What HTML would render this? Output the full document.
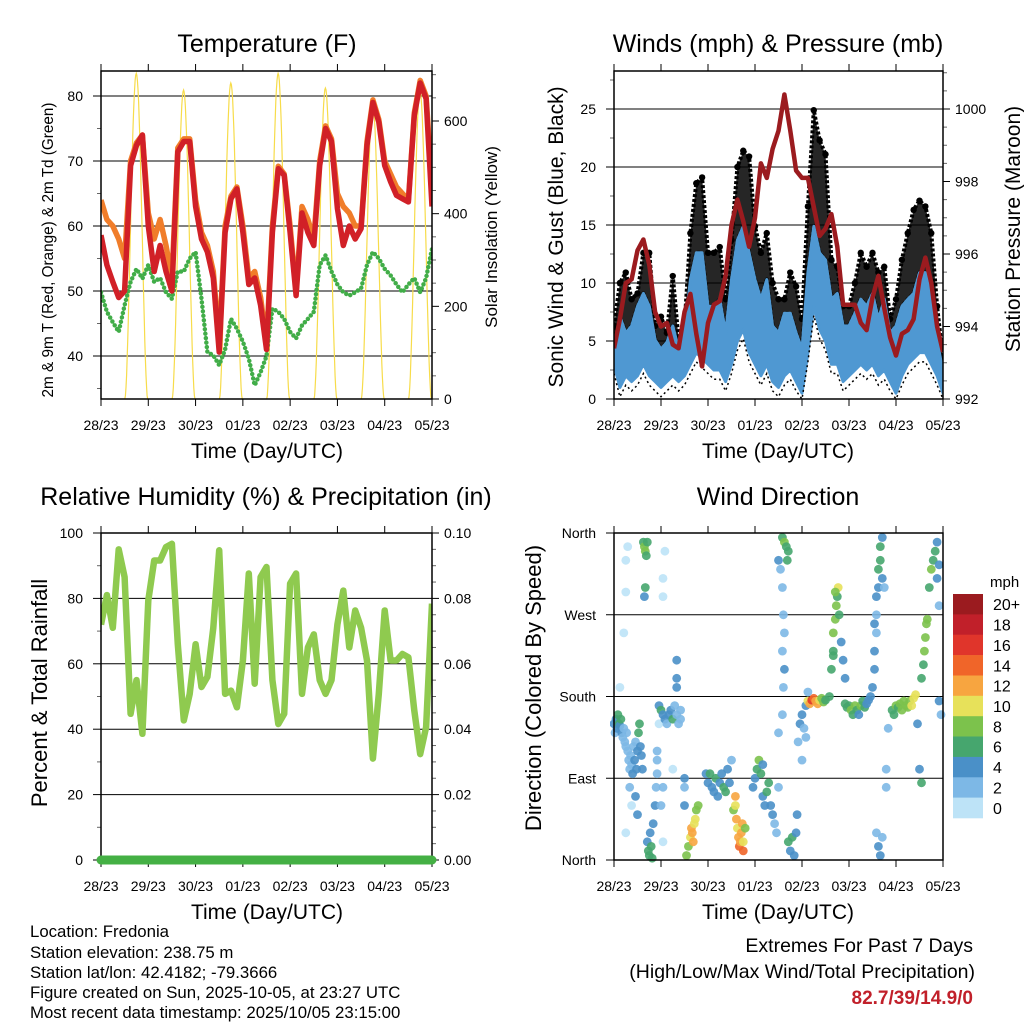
<!DOCTYPE html>
<html><head><meta charset="utf-8"><style>
html,body{margin:0;padding:0;background:#fff;}
svg{display:block;font-family:"Liberation Sans",sans-serif;}
</style></head><body>
<svg id="root" xmlns="http://www.w3.org/2000/svg" width="1024" height="1024" viewBox="0 0 1024 1024">
<rect width="1024" height="1024" fill="#fff"/>
<g id="g1"></g>
<g id="g2"></g>
<g id="g3"></g>
<g id="g4"></g>
<text x="267" y="52" font-size="25" text-anchor="middle">Temperature (F)</text>
<text x="778" y="52" font-size="25" text-anchor="middle">Winds (mph) &amp; Pressure (mb)</text>
<text x="266" y="505" font-size="25" text-anchor="middle">Relative Humidity (%) &amp; Precipitation (in)</text>
<text x="778" y="505" font-size="25" text-anchor="middle">Wind Direction</text>
<text x="267" y="458" font-size="21" text-anchor="middle">Time (Day/UTC)</text>
<text x="778" y="458" font-size="21" text-anchor="middle">Time (Day/UTC)</text>
<text x="267" y="919" font-size="21" text-anchor="middle">Time (Day/UTC)</text>
<text x="778" y="919" font-size="21" text-anchor="middle">Time (Day/UTC)</text>
<text transform="translate(53,250) rotate(-90)" font-size="15.3" text-anchor="middle">2m &amp; 9m T (Red, Orange) &amp; 2m Td (Green)</text>
<text transform="translate(497,237) rotate(-90)" font-size="17" text-anchor="middle">Solar Insolation (Yellow)</text>
<text transform="translate(563,237) rotate(-90)" font-size="21" text-anchor="middle">Sonic Wind &amp; Gust (Blue, Black)</text>
<text transform="translate(1020,229) rotate(-90)" font-size="21" text-anchor="middle">Station Pressure (Maroon)</text>
<text transform="translate(47,693) rotate(-90)" font-size="22" text-anchor="middle">Percent &amp; Total Rainfall</text>
<text transform="translate(541,688) rotate(-90)" font-size="22" text-anchor="middle">Direction (Colored By Speed)</text>
<g font-size="16.8">
<text x="30" y="937">Location: Fredonia</text>
<text x="30" y="958">Station elevation: 238.75 m</text>
<text x="30" y="978">Station lat/lon: 42.4182; -79.3666</text>
<text x="30" y="998">Figure created on Sun, 2025-10-05, at 23:27 UTC</text>
<text x="30" y="1018">Most recent data timestamp: 2025/10/05 23:15:00</text>
</g>
<text x="973" y="952" font-size="19.5" text-anchor="end">Extremes For Past 7 Days</text>
<text x="975" y="978" font-size="19.5" text-anchor="end">(High/Low/Max Wind/Total Precipitation)</text>
<text x="973" y="1004" font-size="19" font-weight="bold" fill="#c1202a" text-anchor="end">82.7/39/14.9/0</text>
</svg>
<script>
// ---- data (3-hourly samples, 57 per series) ----
const dayLabels=["28/23","29/23","30/23","01/23","02/23","03/23","04/23","05/23"];
const tempRed=[58.6,54,51.4,49,50,69.3,72.4,74,60,53,57,53,50,71.4,73,73,63,58,56,52,40.6,59,64.2,65.7,59,51,52,47.8,41,59,68.8,67.8,59,49.3,62,59,57,69.3,75,73,62.7,57,60,58,59.6,72.4,79,76,69.3,66.8,64.7,64.2,63.7,77,82,79.6,63];
const tempOrange=[64,61,60,58,55,70,72.8,74,62,58,61,57,52,72,73.4,73.4,64,59,57,53,42,60,64.6,66,60,52,53,49,42,60,69.2,68,60,50,63,61,58,70,75.4,73.4,65,63,62,60,60,73,79.4,76.4,70,68,66,65,64,77.4,82.4,80,66];
const dewpoint=[49.8,46.8,45.2,43.7,47.8,51.4,53.4,51.9,54,51.4,52,49.8,48.8,53,53,55,56,48.8,40.6,40.1,38.6,41,45.7,44.2,42.2,39.6,35.5,37.5,40,47.3,46.8,45.7,43.7,42.7,44.7,45.7,46.8,54,55.5,53,51,49.8,49.3,49.8,50.4,54,56,55,53.4,52.4,51,49.8,51,52,49.8,52,56.5];
const solarPeak=[703,667,682,703,671,639,665];
const solarNoonHour=[17.9,41.9,65.9,89.9,113.9,137.9,161.9];
const pressure=[993.4,994.2,995.2,995.3,996.1,996.4,995.7,994.4,994.0,994.1,993.5,993.4,994.4,994.9,993.8,992.9,994.1,994.6,994.7,995.4,996.8,997.5,996.9,996.2,997.0,998.5,998.1,998.9,999.4,1000.4,999.4,998.3,998.1,998.1,997.3,996.5,996.7,997.1,996.2,994.6,994.6,994.6,994.1,993.9,994.8,995.4,994.5,993.7,993.2,993.8,993.9,994.2,995.3,995.9,995.2,994.0,993.3];
const gustHi=[6.3,10,10.9,8.6,9.1,12.6,12.6,6.3,7.1,5.7,10.6,5.1,6.3,14.3,18.6,19.1,12.6,12.6,13.1,8.6,13.7,20,21.4,20.9,14.9,12.6,14.3,10,8.6,8.6,10.9,9.7,6.9,16.6,24.9,22.3,21.1,12,11.4,8,8,10,12.6,11.4,12.6,10.9,11.4,6.9,8.6,12,14.3,16.3,17.1,16.6,14.3,8,3.4];
const windHi=[4.3,7.1,5.7,6.3,8,9.1,8,5.1,4.3,4.9,6.3,4.3,5.7,10.3,12.6,12.6,8,8,8.6,5.7,10.3,13.7,14.9,12.6,10.3,8.6,10.3,6.3,5.7,7.4,7.4,5.7,4.3,10.9,14.9,12.6,12,8.6,9.1,6.3,6.3,7.4,8.6,8,9.1,6.9,8.6,5.7,6.3,8,8.6,9.1,10.9,10.9,8.6,5.1,2.3];
const windLo=[3,1,2,1.5,2,3,2,1.5,1,1.5,2,1.5,2,3,4,3.5,3,2.5,2.5,1.5,3,5,6,4,3,2,3,1.5,1,2,2.5,1.5,0.5,4,8,6,5,3,3,1.5,2,2.5,3,2.5,3,2,2.5,1.5,0.5,2,3,3.5,4,4,3,2,0.5];
const humidity=[72,81,71,95,86.5,44.7,55,38.6,79.4,91.6,91.6,95.7,96.7,66,42.7,50.8,66,52.9,56,71,94.7,50.8,51.8,46.7,61,87.6,53.9,86.5,89.6,55,41.6,44.7,84.5,87.6,50.8,65,69,55,50.8,55,72,82.4,65,76.3,71,61,31,50.8,76.3,61,61,63,62,45.7,32.4,40.6,78.4];
const precipTotal=[0,0,0,0,0,0,0,0,0,0,0,0,0,0,0,0,0,0,0,0,0,0,0,0,0,0,0,0,0,0,0,0,0,0,0,0,0,0,0,0,0,0,0,0,0,0,0,0,0,0,0,0,0,0,0,0,0];
const dirHour=[0,0.5,1,1.5,2,2.5,3,3.5,4,4.5,5,5.5,6,6.5,7,7.5,8,8.5,9,9.5,10,10.5,11,11.5,12,12.5,13,13.5,14,14.5,8,9,11,12,6,3,5,6,6,7,15,15.5,16,16.5,17,16,15.5,17,17.5,18,18.5,19,19.5,20,21,21.5,22,23,23,24,25,26,27,28,29,30,31,32,33,34,34,25,25,26,32,32,32,25,24,25,22,22,30,37,38,39,39.5,40,40.5,41,41.5,42,43,36,36,36,47,48,49,50,51,52,53,54,55,56,57,58,59,60,61,62,62.5,63,63.5,64,64.5,65,65.5,66,67,66,62,71,72,73,74,75,76,76,77,78,79,80,81,82,83,84,84,86,87,88,88.5,89,85,86,86.5,87,86,87,86.5,86,84,89,90,91,92,93,93.5,94,95,96,97,98,98,96,99,99,100,101,102,103,104,105,106,107,108,110,111,112,112,113,113.5,114,114.5,113,112,115,116,117,118,118,119,120,121,122,123,124,125,126,127,128,129,130,131,132,133,133,134,133,134,135,135,136,136,137,137,138,134,134,135,136,137,142,143,144,145,146,147,148,149,150,151,152,153,154,140,139,139,155,156,157,157,158,158.5,159,159.5,160,161,162,163,164,165,166,166,167,165,166];
const dirDeg=[150,140,155,145,160,150,148,155,140,135,145,130,125,140,120,110,100,115,105,95,125,110,130,100,120,140,150,125,115,100,80,60,70,50,30,190,250,295,330,345,350,345,340,335,350,300,290,20,10,5,30,15,2,40,60,80,110,150,170,165,160,155,150,160,165,155,170,160,150,155,165,290,310,340,220,200,190,80,60,20,95,120,100,5,15,25,35,30,20,40,45,55,60,60,90,80,95,85,95,80,75,90,70,85,95,80,75,100,85,110,55,60,45,35,25,15,20,30,40,20,35,10,70,80,90,100,110,95,105,70,60,75,85,60,50,40,30,80,140,355,350,345,330,340,320,300,270,250,230,210,190,160,330,20,10,25,5,30,50,130,150,160,145,170,135,110,185,175,172,176,178,175,172,176,178,174,176,180,210,230,250,265,280,290,300,295,225,270,240,220,200,172,168,170,165,160,170,165,160,170,175,168,172,176,180,190,210,230,250,260,290,300,320,330,345,355,310,300,270,30,15,5,25,165,160,170,168,172,165,175,170,168,175,170,178,182,145,100,80,150,100,85,200,215,230,245,260,265,300,320,330,340,310,280,175,160,350,325];
const dirSpeed=[4,3,5,4,6,6,5,6,4,3,2,2,3,2,2,2,3,3,2,4,3,4,3,4,4,6,6,4,4,4,2,1,4,4,1,1,1,1,1,1,6,8,8,7,6,6,4,4,6,6,4,6,6,4,4,3,2,1,5,6,4,5,3,4,5,6,3,3,2,2,2,1,1,1,4,4,4,2,2,1,2,2,1,8,8,10,12,12,12,10,10,8,8,4,4,3,4,4,6,5,4,6,5,4,4,6,6,4,4,2,8,11,12,10,12,14,13,12,12,10,9,15,12,4,4,6,8,6,4,5,4,6,6,5,4,3,2,2,2,6,8,6,7,6,2,2,2,2,2,4,2,2,4,6,5,6,5,4,4,2,4,4,3,4,2,2,2,10,12,16,14,12,12,10,8,8,6,6,6,7,8,8,8,7,10,8,6,6,4,4,4,6,6,7,8,6,8,7,5,8,7,6,5,4,4,4,4,4,3,4,4,5,6,6,6,5,4,2,2,2,4,4,2,6,6,8,6,8,8,8,8,9,9,10,10,10,2,2,2,4,4,6,6,6,8,8,8,8,6,8,6,6,4,2,4,2,4,4];
const speedBins=["0","2","4","6","8","10","12","14","16","18","20+"];
const speedColors=["#bde3f7","#7db8e6","#4a90c8","#46a66e","#7cc24c","#e7e15a","#f7a540","#f06529","#e0352b","#c1202a","#9b1b1f"];

const NS="http://www.w3.org/2000/svg";
function mk(parent,tag,attrs){const e=document.createElementNS(NS,tag);for(const k in attrs)e.setAttribute(k,attrs[k]);parent.appendChild(e);return e;}
function lin(d0,d1,r0,r1){return v=>r0+(v-d0)*(r1-r0)/(d1-d0);}
const HOURS=168;
function pts(xf,yf,arr){return arr.map((v,i)=>xf(i*3).toFixed(1)+","+yf(v).toFixed(1)).join(" ");}

function frame(g,L,R,T,B,opts){
  const xf=lin(0,HOURS,L,R);
  opts.grid.forEach(y=>{const l=mk(g,"line",{x1:L,x2:R,y1:y,y2:y,stroke:"#000","stroke-width":1});
    
    });
  dayLabels.forEach((lab,i)=>{const x=xf(i*24);
    const t=mk(g,"line",{x1:x,x2:x,y1:B,y2:B+7,stroke:"#000"});
    
    
    const t2=mk(g,"line",{x1:x,x2:x,y1:T,y2:T-7,stroke:"#000"});
    
    
    const tx=mk(g,"text",{x:x,y:B+31,"font-size":14,"text-anchor":"middle"});tx.textContent=lab;
    
    });
  opts.left.forEach(([y,lab])=>{
    const t=mk(g,"line",{x1:L-8,x2:L,y1:y,y2:y,stroke:"#000"});
    
    
    const tx=mk(g,"text",{x:L-18,y:y+5,"font-size":14,"text-anchor":"end"});tx.textContent=lab;
    
    });
  (opts.right||[]).forEach(([y,lab])=>{
    const t=mk(g,"line",{x1:R,x2:R+7,y1:y,y2:y,stroke:"#000"});
    
    
    const tx=mk(g,"text",{x:R+12,y:y+5,"font-size":14});tx.textContent=lab;
    
    });
  (opts.minorR||[]).forEach(y=>{const t=mk(g,"line",{x1:R,x2:R+4,y1:y,y2:y,stroke:"#666"});
    
    });
  (opts.minorL||[]).forEach(y=>{const t=mk(g,"line",{x1:L-4,x2:L,y1:y,y2:y,stroke:"#666"});
    
    });
}
function border(g,L,R,T,B){const r=mk(g,"rect",{x:L,y:T,width:R-L,height:B-T,fill:"none",stroke:"#000","stroke-width":1.5});
  
  }

// ---------- Panel 1: temperature ----------
(function(){
  const g=document.getElementById("g1");const L=101,R=432,T=71,B=399;
  const xf=lin(0,HOURS,L,R), yT=lin(40,80,356,96), yS=lin(0,600,399,121);
  const grid=[40,50,60,70,80].map(yT);
  frame(g,L,R,T,B,{grid,left:[40,50,60,70,80].map(v=>[yT(v),String(v)]),
    right:[0,200,400,600].map(v=>[yS(v),String(v)]),
    minorL:[35,45,55,65,75].map(yT),minorR:[50,100,150,250,300,350,450,500,550,650,700].map(yS)});
  const clip=mk(g,"clipPath",{id:"c1"});mk(clip,"rect",{x:L,y:T,width:R-L,height:B-T});
  const pg=mk(g,"g",{"clip-path":"url(#c1)"});
  
  
  solarPeak.forEach((pk,d)=>{const noon=solarNoonHour[d];const p=[];
    for(let k=0;k<=40;k++){const h=noon-5.8+k*0.29;const s=Math.sin(Math.PI*(h-(noon-5.8))/11.6);p.push(xf(h).toFixed(1)+","+yS(pk*Math.pow(Math.max(s,0),1.8)).toFixed(1));}
    const l=mk(pg,"polyline",{points:p.join(" "),fill:"none",stroke:"#f7dc4a","stroke-width":1.2});
    
    });
  const dew=mk(pg,"polyline",{points:pts(xf,yT,dewpoint),fill:"none",stroke:"#41ad48","stroke-width":4.5,"stroke-dasharray":"0 4.5","stroke-linecap":"round","stroke-linejoin":"round"});
  
  
  const or=mk(pg,"polyline",{points:pts(xf,yT,tempOrange),fill:"none",stroke:"#f07d2a","stroke-width":5.5,"stroke-linejoin":"round"});
  
  
  const rd=mk(pg,"polyline",{points:pts(xf,yT,tempRed),fill:"none",stroke:"#d12027","stroke-width":5.5,"stroke-linejoin":"round"});
  
  
  border(g,L,R,T,B);
})();

// ---------- Panel 2: winds & pressure ----------
(function(){
  const g=document.getElementById("g2");const L=614,R=943,T=71,B=399;
  const xf=lin(0,HOURS,L,R), yW=lin(0,25,399,109), yP=lin(992,1000,399,109);
  frame(g,L,R,T,B,{grid:[5,10,15,20,25].map(yW),left:[0,5,10,15,20,25].map(v=>[yW(v),String(v)]),
    right:[992,994,996,998,1000].map(v=>[yP(v),String(v)]),
    minorL:[2.5,7.5,12.5,17.5,22.5,27.5].map(yW),minorR:[992.5,993,993.5,994.5,995,995.5,996.5,997,997.5,998.5,999,999.5,1000.5,1001].map(yP)});
  const clip=mk(g,"clipPath",{id:"c2"});mk(clip,"rect",{x:L,y:T,width:R-L,height:B-T});
  const pg=mk(g,"g",{"clip-path":"url(#c2)"});
  
  
  const gp=gustHi.map((v,i)=>xf(i*3).toFixed(1)+","+yW(v).toFixed(1)).concat(windHi.map((v,i)=>i).reverse().map(i=>xf(i*3).toFixed(1)+","+yW(windHi[i]).toFixed(1)));
  const gb=mk(pg,"polygon",{points:gp.join(" "),fill:"#000","fill-opacity":0.85,stroke:"#000","stroke-width":4,"stroke-linejoin":"round","stroke-dasharray":"3 2"});
  
  
  gustHi.forEach((v,i)=>{const c=mk(pg,"circle",{cx:xf(i*3),cy:yW(v),r:3.2,fill:"#000"});
    
    });
  const wp=windHi.map((v,i)=>xf(i*3).toFixed(1)+","+yW(v).toFixed(1)).concat(windLo.map((v,i)=>i).reverse().map(i=>xf(i*3).toFixed(1)+","+yW(windLo[i]).toFixed(1)));
  const wb=mk(pg,"polygon",{points:wp.join(" "),fill:"#4f98d2",stroke:"#4f98d2","stroke-width":3,"stroke-linejoin":"round"});
  
  
  const gl=mk(pg,"polyline",{points:pts(xf,yW,windLo.map(v=>Math.max(v-0.8,0))),fill:"none",stroke:"#000","stroke-width":1.5,"stroke-dasharray":"2 3"});
  
  
  const pl=mk(pg,"polyline",{points:pts(xf,yP,pressure),fill:"none",stroke:"#9b1b1f","stroke-width":4.5,"stroke-linejoin":"round"});
  
  
  border(g,L,R,T,B);
})();

// ---------- Panel 3: humidity ----------
(function(){
  const g=document.getElementById("g3");const L=101,R=432,T=533,B=860;
  const xf=lin(0,HOURS,L,R), yH=lin(0,100,860,533), yR=lin(0,0.1,860,533);
  frame(g,L,R,T,B,{grid:[20,40,60,80].map(yH),left:[0,20,40,60,80,100].map(v=>[yH(v),String(v)]),
    right:[0,0.02,0.04,0.06,0.08,0.1].map(v=>[yR(v),v.toFixed(2)]),
    minorL:[10,30,50,70,90].map(yH),minorR:[0.005,0.01,0.015,0.025,0.03,0.035,0.045,0.05,0.055,0.065,0.07,0.075,0.085,0.09,0.095].map(yR)});
  const clip=mk(g,"clipPath",{id:"c3"});mk(clip,"rect",{x:L,y:T,width:R-L,height:B-T});
  const pg=mk(g,"g",{"clip-path":"url(#c3)"});
  
  
  const hl=mk(pg,"polyline",{points:pts(xf,yH,humidity),fill:"none",stroke:"#8fca4f","stroke-width":6.5,"stroke-linejoin":"round"});
  
  
  border(g,L,R,T,B);
  const pr=mk(g,"polyline",{points:pts(xf,yR,precipTotal),fill:"none",stroke:"#44b044","stroke-width":9,"stroke-linecap":"round"});
  
  
})();

// ---------- Panel 4: wind direction ----------
(function(){
  const g=document.getElementById("g4");const L=614,R=943,T=533,B=860;
  const xf=lin(0,HOURS,L,R), yD=lin(0,360,860,533);
  frame(g,L,R,T,B,{grid:[90,180,270].map(yD),left:[[yD(0),"North"],[yD(90),"East"],[yD(180),"South"],[yD(270),"West"],[yD(360),"North"]]});
  const clip=mk(g,"clipPath",{id:"c4"});mk(clip,"rect",{x:L-4,y:T-4,width:R-L+8,height:B-T+8});
  const pg=mk(g,"g",{"clip-path":"url(#c4)"});
  
  
  dirHour.forEach((h,i)=>{const s=dirSpeed[i];const bin=Math.min(10,Math.floor(s/2));
    const c=mk(pg,"circle",{cx:xf(h).toFixed(1),cy:yD(dirDeg[i]).toFixed(1),r:4.4,fill:speedColors[bin],"fill-opacity":0.9});
    
    });
  border(g,L,R,T,B);
  const cb=mk(g,"g",{});
  
  
  const mt=mk(cb,"text",{x:990,y:587,"font-size":15});mt.textContent="mph";
  
  
  const bh=224/11;
  speedBins.forEach((lab,i)=>{const k=10-i;const y=594+(10-k)*bh;
    const lab2=speedBins[k];
    const r=mk(cb,"rect",{x:953,y:y.toFixed(1),width:30,height:(bh+0.3).toFixed(1),fill:speedColors[k]});
    
    
    const t=mk(cb,"text",{x:993,y:(y+bh/2+6).toFixed(1),"font-size":16});t.textContent=lab2;
    
    });
})();
</script>
</body></html>
